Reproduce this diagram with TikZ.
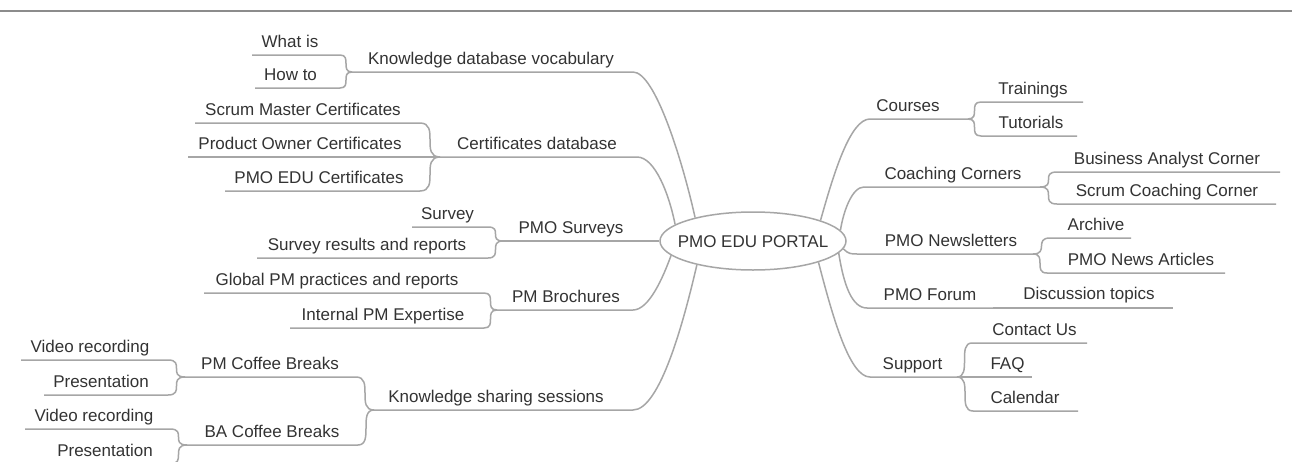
\documentclass[tikz,border=0pt]{standalone}
\usepackage{fontspec}
\setmainfont{Liberation Sans}
\usetikzlibrary{shapes.geometric}
\definecolor{txtc}{HTML}{333333}
\definecolor{lnc}{HTML}{A6A6A6}
\definecolor{rulec}{HTML}{8C8C8C}
\begin{document}
\begin{tikzpicture}[x=1pt,y=-1pt,
  lbl/.style={text=txtc,font=\fontsize{17}{20}\selectfont,inner sep=0pt,text height=12pt,text depth=0pt},
  ln/.style={draw=lnc,line width=1.5pt},
  hubshape/.style={ellipse,draw=lnc,line width=1.5pt,minimum width=186pt,minimum height=58pt,inner sep=0pt},
  toprule/.style={draw=rulec,line width=2.5pt}]
\useasboundingbox[fill=white] (0,0) rectangle (1292,471);
\draw[toprule] (0,11) -- (1292,11);

% hub
\node[hubshape] (hub) at (753,241) {};
\node[lbl] (hubtxt) at (hub.center) {PMO EDU PORTAL};

% ---------- left: Knowledge database vocabulary ----------
\node[lbl] (kdv) at (491,58.5) {Knowledge database vocabulary};
\node[lbl] (whatis) at (290,41.5) {What is};
\node[lbl] (howto) at (290.5,74.5) {How to};
\coordinate (J1) at (352,72);
\coordinate (kdvE) at (633,72);
\coordinate (wiS) at (252,55); \coordinate (wiE) at (340,55);
\coordinate (htS) at (255,88); \coordinate (htE) at (340,88);
\draw[ln] (J1) -- (kdvE) .. controls +(22,0) and +(-13,-58) .. (hub.158);
\draw[ln] (wiS) -- (wiE) .. controls +(12,0) and +(-12,0) .. (J1);
\draw[ln] (htS) -- (htE) .. controls +(12,0) and +(-12,0) .. (J1);

% ---------- Certificates database ----------
\node[lbl] (cdb) at (537,143.5) {Certificates database};
\node[lbl] (smc) at (303,109.5) {Scrum Master Certificates};
\node[lbl] (poc) at (300,143.5) {Product Owner Certificates};
\node[lbl] (pec) at (319,177.5) {PMO EDU Certificates};
\coordinate (J2) at (440,157);
\coordinate (cdbE) at (637,157);
\coordinate (smcS) at (195,123); \coordinate (smcE) at (420,123);
\coordinate (pocS) at (188,157);
\coordinate (pecS) at (225,191); \coordinate (pecE) at (420,191);
\draw[ln] (J2) -- (cdbE) .. controls +(18,0) and +(-6,-30) .. (hub.168);
\draw[ln] (smcS) -- (smcE) .. controls +(20,0) and +(-20,0) .. (J2);
\draw[ln] (pocS) -- (J2);
\draw[ln] (pecS) -- (pecE) .. controls +(20,0) and +(-20,0) .. (J2);

% ---------- PMO Surveys ----------
\node[lbl] (psv) at (571,227.5) {PMO Surveys};
\node[lbl] (sv) at (447.5,213) {Survey};
\node[lbl] (svr) at (367,244.5) {Survey results and reports};
\coordinate (J3) at (503,241);
\coordinate (svS) at (412,227); \coordinate (svE) at (488,227);
\coordinate (svrS) at (257,258); \coordinate (svrE) at (488,258);
\draw[ln] (J3) -- (hub.west);
\draw[ln] (svS) -- (svE) .. controls +(15,0) and +(-15,0) .. (J3);
\draw[ln] (svrS) -- (svrE) .. controls +(15,0) and +(-15,0) .. (J3);

% ---------- PM Brochures ----------
\node[lbl] (pmb) at (566,296.5) {PM Brochures};
\node[lbl] (gpm) at (337,279.5) {Global PM practices and reports};
\node[lbl] (ipm) at (383,314.5) {Internal PM Expertise};
\coordinate (J4) at (497,310);
\coordinate (pmbE) at (633,310);
\coordinate (gpmS) at (204,293); \coordinate (gpmE) at (484,293);
\coordinate (ipmS) at (290,328); \coordinate (ipmE) at (484,328);
\draw[ln] (J4) -- (pmbE) .. controls +(16,0) and +(-8,22) .. (hub.190);
\draw[ln] (gpmS) -- (gpmE) .. controls +(13,0) and +(-13,0) .. (J4);
\draw[ln] (ipmS) -- (ipmE) .. controls +(13,0) and +(-13,0) .. (J4);

% ---------- Knowledge sharing sessions ----------
\node[lbl] (kss) at (496,396.5) {Knowledge sharing sessions};
\node[lbl] (pmcb) at (270,363.5) {PM Coffee Breaks};
\node[lbl] (bacb) at (272,431.5) {BA Coffee Breaks};
\node[lbl] (vr1) at (90,346.5) {Video recording};
\node[lbl] (pr1) at (101,381.5) {Presentation};
\node[lbl] (vr2) at (94,415.5) {Video recording};
\node[lbl] (pr2) at (105,450.5) {Presentation};
\coordinate (J5) at (374,410);
\coordinate (kssE) at (633,410);
\coordinate (J6) at (185,377); \coordinate (pmcbE) at (356,377);
\coordinate (J7) at (187,445); \coordinate (bacbE) at (358,445);
\coordinate (vr1S) at (21,360); \coordinate (vr1E) at (168,360);
\coordinate (pr1S) at (44,395); \coordinate (pr1E) at (168,395);
\coordinate (vr2S) at (25,429); \coordinate (vr2E) at (170,429);
\coordinate (pr2S) at (60,464); \coordinate (pr2E) at (170,464);
\draw[ln] (J5) -- (kssE) .. controls +(27,0) and +(-13,56) .. (hub.203);
\draw[ln] (J6) -- (pmcbE) .. controls +(18,0) and +(-18,0) .. (J5);
\draw[ln] (J7) -- (bacbE) .. controls +(16,0) and +(-16,0) .. (J5);
\draw[ln] (vr1S) -- (vr1E) .. controls +(17,0) and +(-17,0) .. (J6);
\draw[ln] (pr1S) -- (pr1E) .. controls +(17,0) and +(-17,0) .. (J6);
\draw[ln] (vr2S) -- (vr2E) .. controls +(17,0) and +(-17,0) .. (J7);
\begin{scope}
\clip (0,0) rectangle (1292,461);
\draw[ln] (pr2S) -- (pr2E) .. controls +(17,0) and +(-17,0) .. (J7);
\end{scope}

% ---------- right: Courses ----------
\node[lbl] (crs) at (908,105.5) {Courses};
\node[lbl] (trn) at (1033,88.5) {Trainings};
\node[lbl] (tut) at (1031,122.5) {Tutorials};
\coordinate (crsS) at (870,119); \coordinate (J8) at (968,119);
\coordinate (trnS) at (981,102); \coordinate (trnE) at (1083,102);
\coordinate (tutS) at (981,136); \coordinate (tutE) at (1077,136);
\draw[ln] (hub.17) .. controls +(13,-46) and +(-20,0) .. (crsS) -- (J8);
\draw[ln] (J8) .. controls +(13,0) and +(-13,0) .. (trnS) -- (trnE);
\draw[ln] (J8) .. controls +(13,0) and +(-13,0) .. (tutS) -- (tutE);

% ---------- Coaching Corners ----------
\node[lbl] (cch) at (953,173.5) {Coaching Corners};
\node[lbl] (bac) at (1167,158.5) {Business Analyst Corner};
\node[lbl] (scc) at (1167,190.5) {Scrum Coaching Corner};
\coordinate (cchS) at (864,187); \coordinate (J9) at (1040,187);
\coordinate (bacS) at (1057,172); \coordinate (bacE) at (1280,172);
\coordinate (sccS) at (1057,204); \coordinate (sccE) at (1276,204);
\draw[ln] (hub.7) .. controls +(3,-19) and +(-12,0) .. (cchS) -- (J9);
\draw[ln] (J9) .. controls +(17,0) and +(-17,0) .. (bacS) -- (bacE);
\draw[ln] (J9) .. controls +(17,0) and +(-17,0) .. (sccS) -- (sccE);

% ---------- PMO Newsletters ----------
\node[lbl] (nwl) at (951,240.5) {PMO Newsletters};
\node[lbl] (arc) at (1096,224.5) {Archive};
\node[lbl] (nwa) at (1141,259.5) {PMO News Articles};
\coordinate (nwlS) at (857,254); \coordinate (J10) at (1033,254);
\coordinate (arcS) at (1050,238); \coordinate (arcE) at (1131,238);
\coordinate (nwaS) at (1047,273); \coordinate (nwaE) at (1225,273);
\draw[ln] (hub.355) .. controls +(5,5) and +(-6,0) .. (nwlS) -- (J10);
\draw[ln] (J10) .. controls +(16,0) and +(-16,0) .. (arcS) -- (arcE);
\draw[ln] (J10) .. controls +(14,0) and +(-14,0) .. (nwaS) -- (nwaE);

% ---------- PMO Forum ----------
\node[lbl] (frm) at (930,294.5) {PMO Forum};
\node[lbl] (dsc) at (1089,293) {Discussion topics};
\coordinate (frmS) at (867,308); \coordinate (J11) at (993,308);
\coordinate (dscE) at (1173,308);
\draw[ln] (hub.352) .. controls +(5,32) and +(-15,0) .. (frmS) -- (J11);
\draw[ln] (J11) -- (dscE);

% ---------- Support ----------
\node[lbl] (sup) at (912.5,363.5) {Support};
\node[lbl] (cnt) at (1034.5,329.5) {Contact Us};
\node[lbl] (faq) at (1007.5,363.5) {FAQ};
\node[lbl] (cal) at (1025,397.5) {Calendar};
\coordinate (supS) at (870,377); \coordinate (J12) at (957,377);
\coordinate (cntS) at (972,343); \coordinate (cntE) at (1087,343);
\coordinate (faqE) at (1032,377);
\coordinate (calS) at (973,411); \coordinate (calE) at (1078,411);
\draw[ln] (hub.342) .. controls +(15,58) and +(-20,0) .. (supS) -- (J12);
\draw[ln] (J12) .. controls +(15,0) and +(-15,0) .. (cntS) -- (cntE);
\draw[ln] (J12) -- (faqE);
\draw[ln] (J12) .. controls +(16,0) and +(-16,0) .. (calS) -- (calE);
\end{tikzpicture}
\end{document}
